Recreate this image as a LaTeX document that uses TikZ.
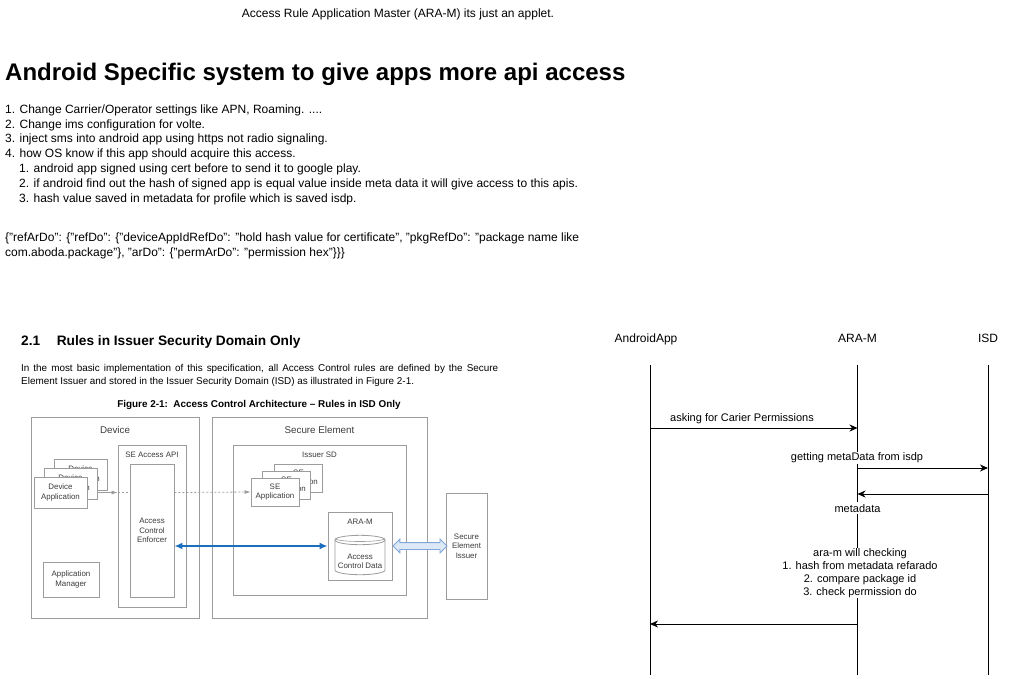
\documentclass[tikz,border=0pt]{standalone}
\usepackage{fontspec}
\setmainfont{Liberation Sans}
\usetikzlibrary{positioning,shapes.arrows,arrows.meta}
\definecolor{figline}{HTML}{9C9C9C}
\definecolor{figtext}{HTML}{3C3C3C}
\definecolor{acfblue}{HTML}{1C6EBF}
\definecolor{sielink}{HTML}{7FA7D9}
\definecolor{sielinkfill}{HTML}{DDE9F7}
\tikzset{>={Stealth[length=8pt,width=7pt,inset=2.5pt]}}
\newcommand{\fs}[2]{\fontsize{#1}{#2}\selectfont}

\begin{document}
\begin{tikzpicture}[x=1pt,y=-1pt,
  note/.style={inner sep=0pt,font=\fs{12}{14.83}},
  figbox/.style={draw=figline,line width=0.8pt,fill=white,inner sep=0pt},
  figlbl/.style={inner sep=0pt,text=figtext,font=\fs{7.9}{9.4},align=center},
  figarrow/.style={figline,line width=0.8pt,-{Latex[length=6pt,width=4pt]}},
  lifeline/.style={line width=1pt},
  msg/.style={->,line width=1pt},
  msglbl/.style={inner sep=1pt,fill=white,font=\fs{11}{13.1},align=center}]

  \fill[white] (0,0) rectangle (1014,678);
  \useasboundingbox (0,0) rectangle (1014,678);

  % Notes
  \node[note,anchor=base] (applet) at (398,17) {Access Rule Application Master (ARA-M) its just an applet.};
  \node[note,anchor=base west,font=\bfseries\fs{24}{28}] (title) at (5,80.5) {Android Specific system to give apps more api access};
  \node[note,anchor=north west,align=left] (steps) at (5,104.3) {1. Change Carrier/Operator settings like APN, Roaming. ....\\
    2. Change ims configuration for volte.\\
    3. inject sms into android app using https not radio signaling.\\
    4. how OS know if this app should acquire this access.\\
    \hspace*{14pt}1. android app signed using cert before to send it to google play.\\
    \hspace*{14pt}2. if android find out the hash of signed app is equal value inside meta data it will give access to this apis.\\
    \hspace*{14pt}3. hash value saved in metadata for profile which is saved isdp.};
  \node[note,anchor=north west,align=left] (json) at (5,232.5) {\{"refArDo": \{"refDo": \{"deviceAppIdRefDo": "hold hash value for certificate", "pkgRefDo": "package name like\\
    com.aboda.package"\}, "arDo": \{"permArDo": "permission hex"\}\}\}};

  % Spec excerpt
  \node[note,anchor=base west,font=\bfseries\fs{13.7}{16}] (sec) at (21,345.3) {2.1\hspace*{16.6pt}Rules in Issuer Security Domain Only};
  \node[note,anchor=north west,text width=477,align=justify,font=\fs{9.9}{13.2}] (para) at (21,364.2) {In the most basic implementation of this specification, all Access Control rules are defined by the Secure Element Issuer and stored in the Issuer Security Domain (ISD) as illustrated in Figure 2-1.};
  \node[note,anchor=base,font=\bfseries\fs{9.9}{12}] (cap) at (259,407.5) {Figure 2-1:\ \ Access Control Architecture – Rules in ISD Only};

  % Device side
  \node[figbox,minimum width=168,minimum height=201] (dev) at (115,517.5) {};
  \node[figlbl,font=\fs{9.8}{11},below=9.4pt of dev.north] (devlbl) {Device};
  \node[figbox,minimum width=68,minimum height=162] (api) at (152,526) {};
  \node[figlbl,below=7.3pt of api.north] (apilbl) {SE Access API};
  \node[figbox,figlbl,minimum width=44,minimum height=133] (acf) at (152,530.5) {Access\\Control\\Enforcer};
  \node[figbox,figlbl,minimum width=56,minimum height=35] (mgr) at (71,579.5) {Application\\Manager};
  \node[figbox,figlbl,minimum width=53,minimum height=31] (dapp3) at (80.5,474.5) {Device\\Application};
  \node[figbox,figlbl,minimum width=53,minimum height=31] (dapp2) at (70.5,483.5) {Device\\Application};
  \node[figbox,figlbl,minimum width=53,minimum height=31] (dapp1) at (60.5,492.5) {Device\\Application};

  % Secure element side
  \node[figbox,minimum width=215,minimum height=201] (se) at (319.5,517.5) {};
  \node[figlbl,font=\fs{9.8}{11},below=9.4pt of se.north] (selbl) {Secure Element};
  \node[figbox,minimum width=173,minimum height=150] (isd) at (319.5,520) {};
  \node[figlbl,below=7.3pt of isd.north] (isdlbl) {Issuer SD};
  \node[figbox,figlbl,minimum width=48,minimum height=28] (seapp3) at (298.5,478) {SE\\Application};
  \node[figbox,figlbl,minimum width=48,minimum height=28] (seapp2) at (286.5,485) {SE\\Application};
  \node[figbox,figlbl,minimum width=48,minimum height=28] (seapp1) at (275,492) {SE\\Application};
  \node[figbox,minimum width=64,minimum height=68] (aram) at (360,546) {};
  \node[figlbl,below=7.3pt of aram.north] (aramlbl) {ARA-M};
  % access control data store
  \draw[figline,line width=0.8pt,fill=white] (335,540) -- (335,570)
    arc[start angle=180,end angle=360,x radius=25pt,y radius=4.7pt] -- (385,540)
    arc[start angle=0,end angle=180,x radius=25pt,y radius=4.7pt] -- cycle;
  \draw[figline,line width=0.8pt] (335,540) arc[start angle=180,end angle=360,x radius=25pt,y radius=4.7pt];
  \draw[figline,line width=0.6pt] (335,538.5) arc[start angle=180,end angle=360,x radius=25pt,y radius=3pt];
  \node[figlbl] (acd) at (360,561.5) {Access\\Control Data};
  \node[figbox,figlbl,minimum width=41,minimum height=106] (sei) at (466.5,546) {Secure\\Element\\Issuer};

  % Figure links
  \draw[figarrow] (dapp2.east |- dapp1.east) -- (api.west |- dapp1.east);
  \draw[figline,line width=0.8pt,dash pattern=on 2pt off 2pt] (api.west |- dapp1.east) -- (acf.west |- dapp1.east);
  \draw[figarrow,dash pattern=on 2pt off 2pt] (acf.east |- dapp1.east) -- (seapp1.west);
  \draw[acfblue,line width=1.8pt,{Latex[length=8pt,width=7pt]}-{Latex[length=8pt,width=7pt]}] (acf.east |- aram.west) -- (aram.west);
  \node[double arrow,draw=sielink,fill=sielinkfill,line width=0.8pt,inner sep=3pt,double arrow head extend=3.5pt,minimum height=54,right=0pt of aram] (link) {};

  % Sequence heads
  \node[note,anchor=base] (happ) at (646,342.3) {AndroidApp};
  \node[note,anchor=base] (haram) at (857.5,342.3) {ARA-M};
  \node[note,anchor=base] (hisd) at (988,342.3) {ISD};

  % Lifelines
  \coordinate (appT) at (650,365);
  \coordinate (appB) at (650,675);
  \coordinate (aramT) at (857.5,365);
  \coordinate (aramB) at (857.5,675);
  \coordinate (isdT) at (988,365);
  \coordinate (isdB) at (988,675);
  \draw[lifeline] (appT) -- (appB);
  \draw[lifeline] (aramT) -- (aramB);
  \draw[lifeline] (isdT) -- (isdB);

  % Messages
  \coordinate (m1) at (0,428);
  \coordinate (m2) at (0,468);
  \coordinate (m3) at (0,494);
  \coordinate (m5) at (0,624);
  \draw[msg] (appT |- m1) -- (aramT |- m1);
  \node[msglbl,anchor=base] (l1) at (742,421.6) {asking for Carier Permissions};
  \draw[msg] (aramT |- m2) -- (isdT |- m2);
  \node[msglbl,anchor=base] (l2) at (857,460.6) {getting metaData from isdp};
  \draw[msg] (isdT |- m3) -- (aramT |- m3);
  \node[msglbl,anchor=base,inner ysep=2pt] (l3) at (857.5,512.2) {metadata};
  \node[msglbl,inner ysep=0.5pt] (l4) at (860,572.8) {ara-m will checking\\1. hash from metadata refarado\\2. compare package id\\3. check permission do};
  \draw[msg] (aramT |- m5) -- (appT |- m5);

\end{tikzpicture}
\end{document}
